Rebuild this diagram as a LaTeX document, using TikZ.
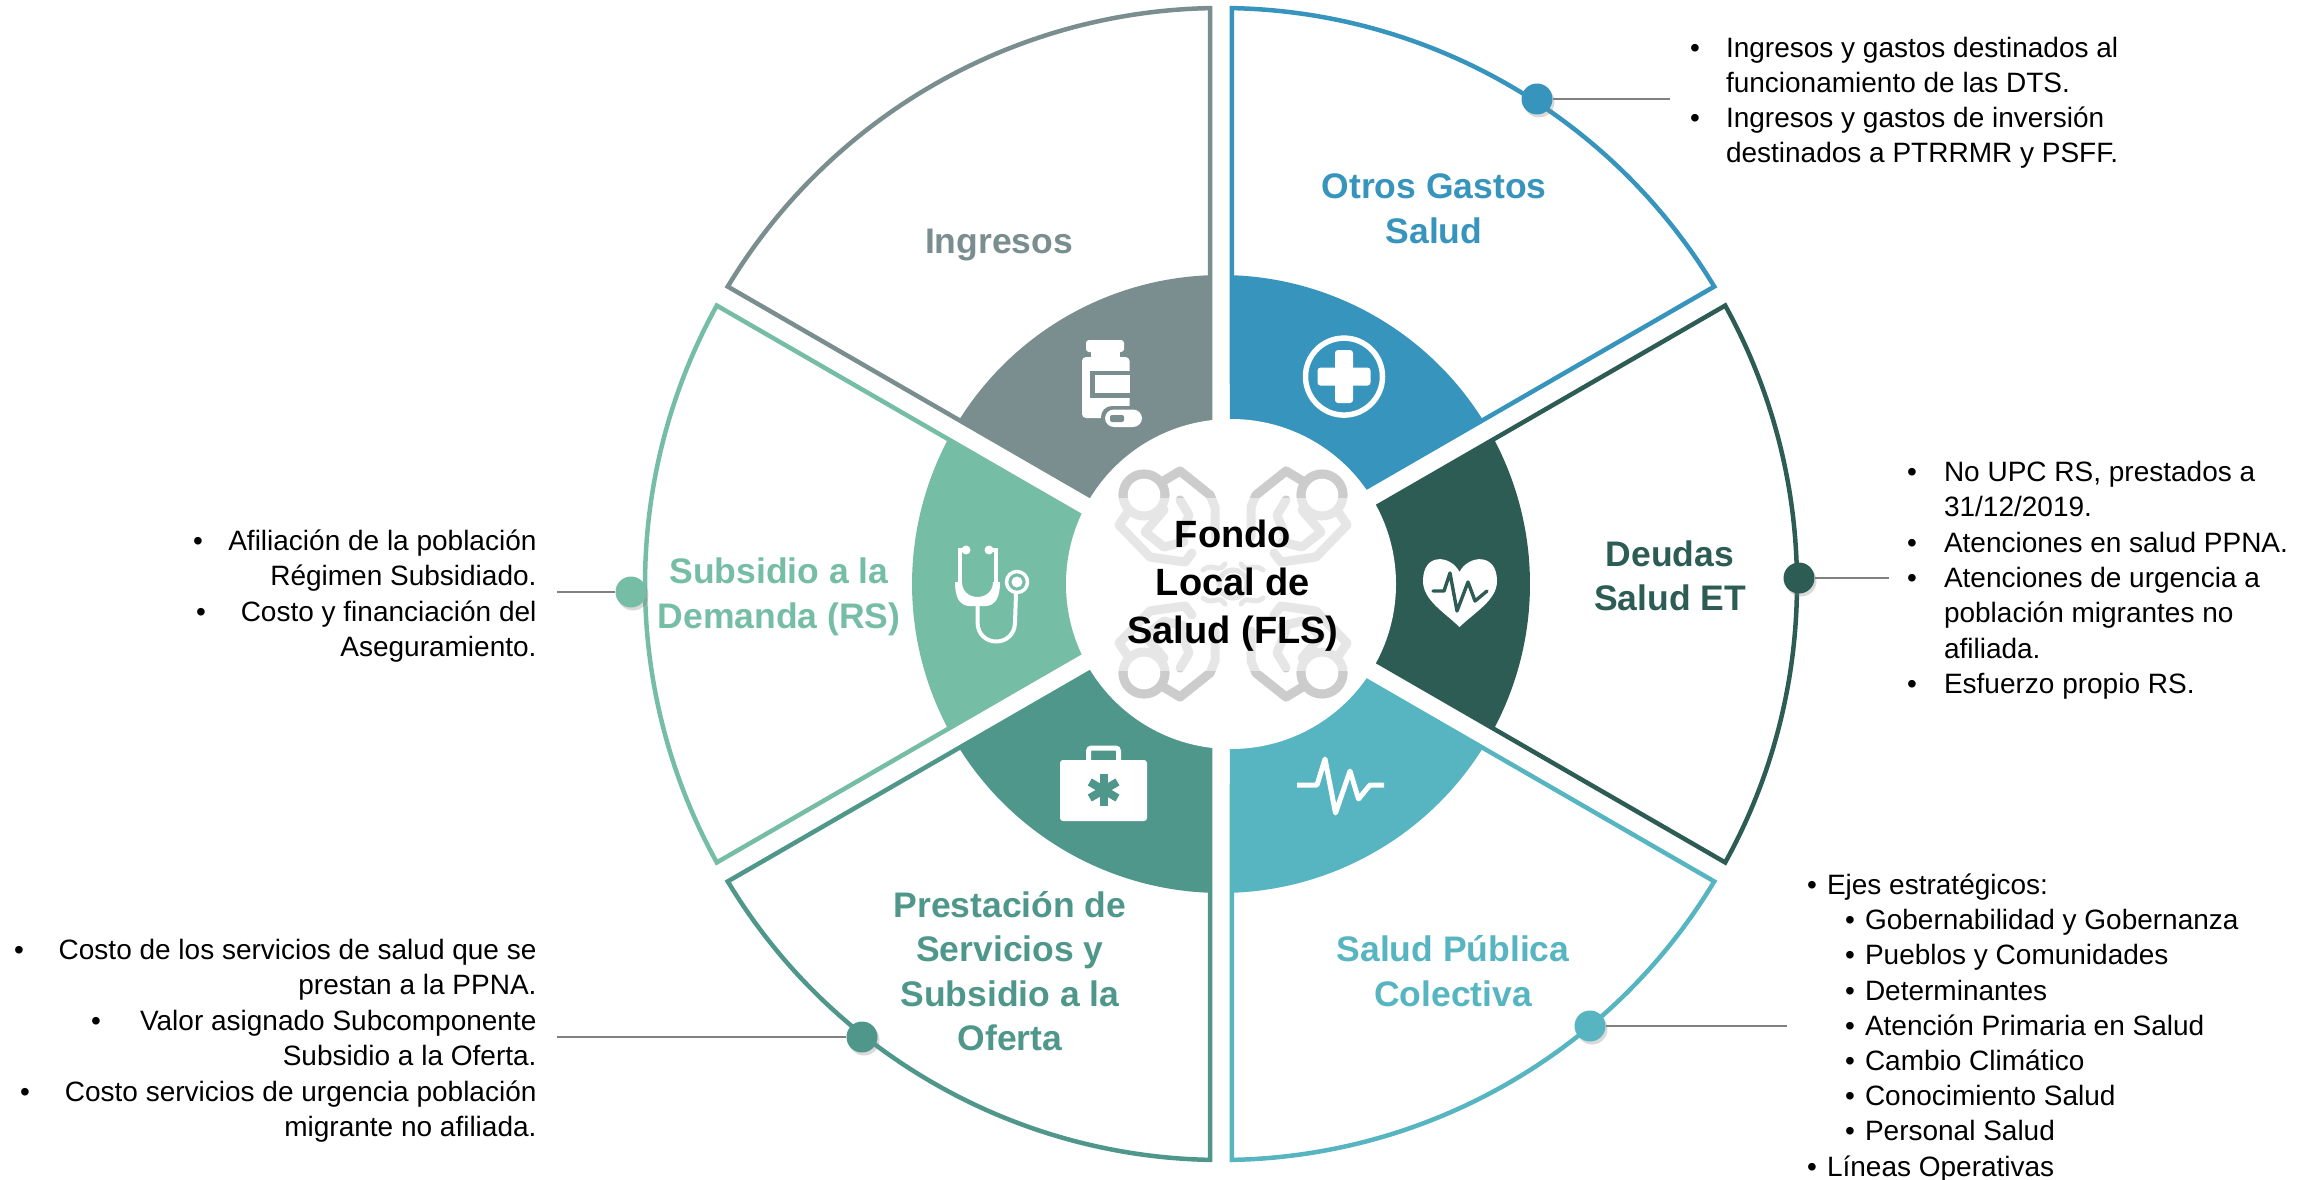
\documentclass[tikz,border=0pt]{standalone}
\usepackage{fontspec}
\setmainfont{Liberation Sans}
\usetikzlibrary{shadows}
\definecolor{cgray}{HTML}{7A8D8F}
\definecolor{cblue}{HTML}{3794BC}
\definecolor{cdark}{HTML}{2D5C55}
\definecolor{ccyan}{HTML}{57B4C1}
\definecolor{cgreen}{HTML}{4F978B}
\definecolor{cmint}{HTML}{76BDA6}
\definecolor{wmdark}{HTML}{CCCCCC}
\definecolor{wmlight}{HTML}{E6E6E6}
\newcounter{tn}
\tikzset{
  bodytext/.style={inner sep=0pt,outer sep=0pt,font=\fontsize{28}{35.3}\selectfont,text=black},
  titletext/.style={inner sep=0pt,align=center,font=\fontsize{35.5}{44.5}\selectfont\bfseries},
  hubtext/.style={inner sep=0pt,align=center,font=\fontsize{38}{48}\selectfont\bfseries,text=black},
  dotnode/.style={circle,fill=#1,minimum size=31pt,inner sep=0pt,
     drop shadow={opacity=.3,shadow xshift=2pt,shadow yshift=-3pt,shadow scale=1.0}},
  leader/.style={draw=black!50,line width=1.6pt},
  wm/.style={line width=9pt,line join=round,line cap=round},
}
\newcommand{\fsector}[2]{%
  \begin{scope}[shift={(1221,584)},y=1pt]
    \pgfmathsetmacro{\aa}{#1-28.91}\pgfmathsetmacro{\ab}{#1+28.91}
    \pgfmathsetmacro{\ac}{#1-27.96}\pgfmathsetmacro{\ad}{#1+27.96}
    \draw[#2,line width=4.5pt,line join=miter] (#1:22) -- (\aa:576) arc[start angle=\aa,end angle=\ab,radius=576] -- cycle;
    \fill[#2] (#1:22) -- (\ac:309) arc[start angle=\ac,end angle=\ad,radius=309] -- cycle;
  \end{scope}}
\newcommand{\tl}[3]{\stepcounter{tn}\node[bodytext,anchor=base west] (t\arabic{tn}) at (#1,#2) {#3};}
\newcommand{\tr}[3]{\stepcounter{tn}\node[bodytext,anchor=base east] (t\arabic{tn}) at (#1,#2) {#3};}
\newcommand{\bu}[2]{\stepcounter{tn}\node[bodytext,anchor=base] (t\arabic{tn}) at (#1,#2) {•};}
\newcommand{\wmperson}{%
  \draw[wm] (-68,-104) -- (-53,-113) -- (-23,-89) -- (-18,-77) -- (-18,-47);
  \draw[wm] (-106,-71) -- (-114,-59) -- (-83,-27) -- (-48,-22) -- (-41,-31);
  \draw[wm] (-69,-74) -- (-88,-52) -- (-69,-37) -- (-49,-42);
  \draw[wm] (-53,-84) -- (-44,-69) -- (-53,-46);
  \draw[wm,line width=5pt] (-30,-14) .. controls (-20,-22) and (-14,-10) .. (-8,-20);
  \draw[line width=9pt] (-89,-89) circle[radius=21];
}
\begin{document}
\begin{tikzpicture}[x=1pt,y=-1pt]
\useasboundingbox (0,0) rectangle (2318,1180);
\fsector{60}{cblue}
\fsector{0}{cdark}
\fsector{-60}{ccyan}
\fsector{-120}{cgreen}
\fsector{180}{cmint}
\fsector{120}{cgray}
% white hub
\fill[white] (1231,584) circle[radius=165];
% watermark
\foreach \sx/\sy in {1/1,-1/1,1/-1,-1/-1}{
  \begin{scope}[shift={(1233,584)},xscale=\sx,yscale=\sy,wmlight]
    \wmperson
    \draw[wm,line width=5pt] (-14,0) arc[start angle=180,end angle=90,radius=14];
    \begin{scope}
      \clip (-130,-130) rectangle (130,-87);
      \begin{scope}[wmdark] \wmperson \end{scope}
    \end{scope}
  \end{scope}
}
\node[hubtext] (hub) at (1233,586) {Fondo\\Local de\\Salud (FLS)};
% titles
\node[titletext,text=cgray] (ti1) at (999,245) {Ingresos};
\node[titletext,text=cblue] (ti2) at (1434,209) {Otros Gastos\\Salud};
\node[titletext,text=cdark] (ti3) at (1670,576) {Deudas\\Salud ET};
\node[titletext,text=ccyan] (ti4) at (1453,971) {Salud Pública\\Colectiva};
\node[titletext,text=cgreen] (ti5) at (1010,971) {Prestación de\\Servicios y\\Subsidio a la\\Oferta};
\node[titletext,text=cmint] (ti6) at (779,597) {Subsidio a la\\Demanda (RS)};
% pill bottle
\fill[white,rounded corners=3pt] (1086,340) rectangle (1124,352);
\fill[white] (1091,350) rectangle (1120,360);
\fill[white,rounded corners=4pt] (1082,357) rectangle (1129.5,418);
\fill[cgray] (1090,370.5) rectangle (1130,397.5);
\fill[white] (1094.5,375) rectangle (1130,393);
\fill[cgray,rounded corners=11pt] (1101,406) rectangle (1146,431);
\fill[white,rounded corners=9pt] (1105,409.5) rectangle (1142,427);
\fill[cgray,rounded corners=2pt] (1110,415) rectangle (1124,422);
% plus
\draw[white,line width=5.5pt] (1344,376.6) circle[radius=38.5];
\fill[white,rounded corners=3pt] (1317.5,367.6) rectangle (1370.5,385.6);
\fill[white,rounded corners=3pt] (1335,350) rectangle (1353,403);
% heart
\fill[white] (1459.5,572) .. controls (1468,555) and (1497,552) .. (1497,581)
  .. controls (1497,600) and (1475,612) .. (1459.5,627)
  .. controls (1444,612) and (1423,600) .. (1423,581)
  .. controls (1423,552) and (1451,555) .. (1459.5,572) -- cycle;
\draw[cdark,line width=3.4pt,line join=round,line cap=round] (1433,591) -- (1444,591) -- (1450,573) -- (1457,611) -- (1468,582) -- (1475,601) -- (1487,591);
% ecg
\draw[white,line width=5pt,line join=round] (1297,785) -- (1317,785) -- (1325,759) -- (1335.5,813) -- (1350,771) -- (1358.5,799) -- (1370,785) -- (1384,785);
% briefcase
\fill[white,rounded corners=3pt] (1060,760) rectangle (1147,821);
\draw[white,line width=5pt,rounded corners=3pt] (1088.5,762) -- (1088.5,748) -- (1118.5,748) -- (1118.5,762);
\foreach \a in {90,30,150}{
  \draw[cgreen,line width=8pt] (1103.6,790) ++(\a:16) -- ++(\a+180:32);
}
% stethoscope
\fill[white] (966,550) circle[radius=4.5];
\fill[white] (989,550) circle[radius=4.5];
\draw[white,line width=3.5pt] (966,550) -- (960,550) -- (960,585);
\draw[white,line width=3.5pt] (989,550) -- (996,550) -- (996,585);
\fill[white] (955,582) .. controls (955,610) and (970,606) .. (977.5,606) .. controls (985,606) and (1000,610) .. (1000,582)
  -- (993,582) .. controls (993,592) and (985,597) .. (977.5,597) .. controls (970,597) and (962,592) .. (962,582) -- cycle;
\draw[white,line width=4pt] (977.5,604) -- (977.5,622) .. controls (977.5,648) and (1015,648) .. (1015,622) -- (1016,594);
\draw[white,line width=3.5pt] (1017,582) circle[radius=10.5];
\fill[white] (1017,582) circle[radius=5.5];
% connectors and dots
\node[dotnode=cblue] (d1) at (1537,99) {};
\node[dotnode=cdark] (d2) at (1799,578) {};
\node[dotnode=ccyan] (d3) at (1590,1026) {};
\node[dotnode=cgreen] (d4) at (862,1037) {};
\node[dotnode=cmint] (d5) at (631,592) {};
\coordinate (e1) at (1670,99);
\coordinate (e2) at (1889,578);
\coordinate (e3) at (1787,1026);
\coordinate (e4) at (557,1037);
\coordinate (e5) at (557,592);
\draw[leader] (d1) -- (e1);
\draw[leader] (d2) -- (e2);
\draw[leader] (d3) -- (e3);
\draw[leader] (d4) -- (e4);
\draw[leader] (d5) -- (e5);
% lists
\bu{1695}{57.5}\tl{1726}{57.5}{Ingresos y gastos destinados al}
\tl{1726}{92.5}{funcionamiento de las DTS.}
\bu{1695}{127.5}\tl{1726}{127.5}{Ingresos y gastos de inversión}
\tl{1726}{162.5}{destinados a PTRRMR y PSFF.}
\bu{1912}{481.5}\tl{1944}{481.5}{No UPC RS, prestados a}
\tl{1944}{516.8}{31/12/2019.}
\bu{1912}{552.1}\tl{1944}{552.1}{Atenciones en salud PPNA.}
\bu{1912}{587.4}\tl{1944}{587.4}{Atenciones de urgencia a}
\tl{1944}{622.7}{población migrantes no}
\tl{1944}{658}{afiliada.}
\bu{1912}{693.3}\tl{1944}{693.3}{Esfuerzo propio RS.}
\bu{1812}{894.5}\tl{1827}{894.5}{Ejes estratégicos:}
\bu{1850}{929.7}\tl{1865}{929.7}{Gobernabilidad y Gobernanza}
\bu{1850}{964.9}\tl{1865}{964.9}{Pueblos y Comunidades}
\bu{1850}{1000.1}\tl{1865}{1000.1}{Determinantes}
\bu{1850}{1035.3}\tl{1865}{1035.3}{Atención Primaria en Salud}
\bu{1850}{1070.5}\tl{1865}{1070.5}{Cambio Climático}
\bu{1850}{1105.7}\tl{1865}{1105.7}{Conocimiento Salud}
\bu{1850}{1140.9}\tl{1865}{1140.9}{Personal Salud}
\bu{1812}{1176}\tl{1827}{1176}{Líneas Operativas}
\bu{198}{550}\tr{536.5}{550}{Afiliación de la población}
\tr{536.5}{585.5}{Régimen Subsidiado.}
\bu{201}{621}\tr{536.5}{621}{Costo y financiación del}
\tr{536.5}{656}{Aseguramiento.}
\bu{19}{959}\tr{536.5}{959}{Costo de los servicios de salud que se}
\tr{536.5}{994.5}{prestan a la PPNA.}
\bu{96}{1030}\tr{536.5}{1030}{Valor asignado Subcomponente}
\tr{536.5}{1065}{Subsidio a la Oferta.}
\bu{25}{1101}\tr{536.5}{1101}{Costo servicios de urgencia población}
\tr{536.5}{1136}{migrante no afiliada.}
\end{tikzpicture}
\end{document}
